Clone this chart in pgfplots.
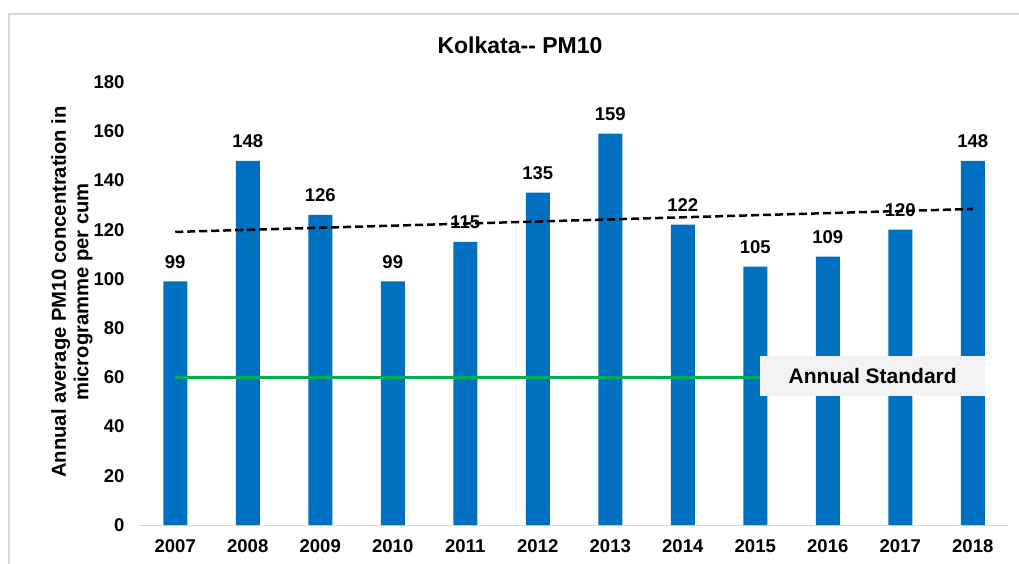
\documentclass[border=0pt]{standalone}
\usepackage{fontspec}
\setmainfont{Liberation Sans}
\usepackage{pgfplots}
\pgfplotsset{compat=1.18}
\definecolor{barblue}{HTML}{0070C0}
\definecolor{stdgreen}{HTML}{00B050}
\definecolor{framegray}{HTML}{D9D9D9}
\definecolor{boxgray}{HTML}{F2F2F2}
\newcommand{\chartfont}{\bfseries\fontsize{18.5}{22}\selectfont}
\begin{document}
\begin{tikzpicture}[x=1pt,y=1pt]
\useasboundingbox (0,0) rectangle (1019,563);
\draw[framegray, line width=2pt] (9,-30) rectangle (1060,549);
\node[font=\bfseries\fontsize{23}{27}\selectfont] at (520,518) {Kolkata{-}{-} PM10};
\node[font=\bfseries\fontsize{20.2}{22.5}\selectfont, rotate=90, align=center] at (72,271) {Annual average PM10 concentration in\\microgramme per cum};
\begin{axis}[
  at={(139pt,38pt)}, anchor=south west,
  scale only axis, width=870pt, height=443pt,
  xmin=2006.5, xmax=2018.5, ymin=0, ymax=180,
  ytick={0,20,...,180},
  xtick={2007,2008,2009,2010,2011,2012,2013,2014,2015,2016,2017,2018},
  xticklabels={2007,2008,2009,2010,2011,2012,2013,2014,2015,2016,2017,2018},
  axis lines*=left,
  y axis line style={draw=none},
  x axis line style={draw=framegray, line width=1pt},
  major tick length=0pt,
  tick label style={font=\chartfont},
  /pgf/number format/assume math mode=true,
  yticklabel style={xshift=-11pt},
  xticklabel style={yshift=-11pt},
  clip=false,
]
\addplot[ybar, bar width=24pt, fill=barblue, draw=none,
  nodes near coords,
  every node near coord/.append style={font=\chartfont, anchor=base, yshift=13pt}]
  coordinates {(2007,99) (2008,148) (2009,126) (2010,99) (2011,115) (2012,135)
               (2013,159) (2014,122) (2015,105) (2016,109) (2017,120) (2018,148)};
\addplot[stdgreen, line width=3pt] coordinates {(2007,60) (2018,60)};
\addplot[black, line width=2.5pt, dash pattern=on 8pt off 4pt] coordinates {(2007,119.08) (2018,128.42)};
\node[fill=boxgray, minimum width=225pt, minimum height=40pt, inner sep=0pt, font=\bfseries\fontsize{21}{25}\selectfont] at (axis cs:2016.62,60.5) {Annual Standard};
\end{axis}
\end{tikzpicture}
\end{document}
